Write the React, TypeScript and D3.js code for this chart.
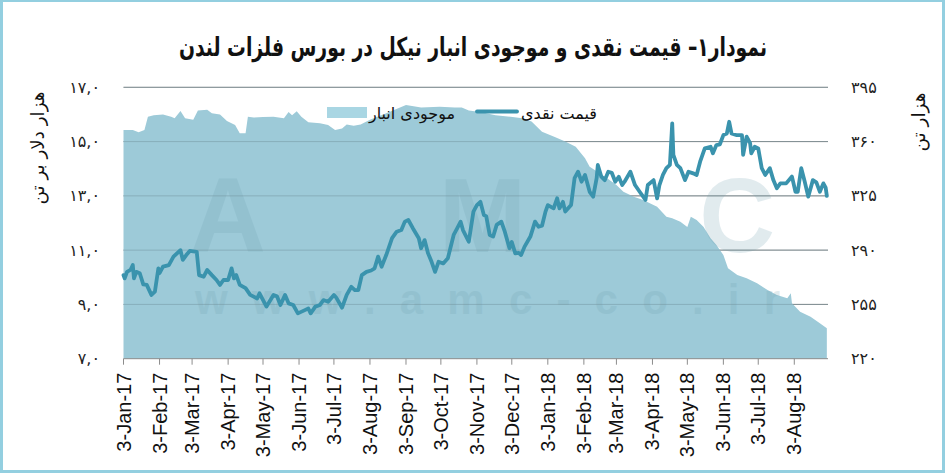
import React from "react";
import * as d3 from "d3";

// Days after 3-Jan-2017 for each reading
const inventoryDay = [0,8,13,18,21,26,34,41,44,49,53,60,64,72,76,83,89,96,100,105,107,112,120,129,138,142,145,149,153,159,169,176,182,188,192,198,204,212,225,243,256,272,285,291,297,307,320,333,343,351,360,371,380,389,397,401,407,416,424,430,439,447,459,467,472,479,485,488,493,499,505,510,516,520,528,536,545,554,562,571,574,575,582,591,599,605];
// LME nickel stocks (thousand tonnes)
const inventoryValue = [367.5,367.5,366,367.5,376,377,377.5,376,375,379.7,375,374,380,380.5,378.2,377.5,373.3,370.7,365.3,365.3,376,375.5,375.8,376,375,379,377,379.5,376,372.4,371.8,370.7,367.5,368.5,371,370.2,371,374,378,383.6,382,382.5,382,381.9,380,379,377,376,375,373,366.4,363,360,356.7,349.2,343.8,340.8,336.3,332,327.7,324.5,322.3,318,311.6,310.5,308.3,305,311.6,309.4,305,297.6,293.3,286.9,278.3,274,271.8,268.6,264.3,261.1,259,262.2,255.7,250.3,247.1,242.8,239.6];

const priceDay = [0,1,3,6,8,9,11,14,17,20,
24,27,30,31,34,39,43,49,51,54,
57,63,65,69,72,76,80,83,86,90,
93,95,97,100,105,109,115,117,123,129,
132,135,139,142,146,150,156,159,161,165,
169,172,176,181,183,188,192,196,199,202,
205,209,213,216,219,222,226,231,235,239,
242,245,249,254,256,259,262,265,268,271,
275,279,284,287,290,292,297,301,304,307,
310,312,315,318,321,325,328,332,334,337,
340,342,345,350,354,357,360,363,365,370,
373,375,378,380,385,388,391,394,397,401,
404,407,408,411,414,417,420,423,426,429,
431,436,440,444,449,451,456,459,461,464,
467,470,472,473,476,479,483,486,490,493,
496,500,505,507,510,513,516,519,521,523,
527,532,533,536,539,540,543,546,549,552,
556,559,562,565,570,575,578,580,583,586,
589,593,596,599,602,604,605];
// Cash price (thousand $ per tonne)
const priceValue = [10.08,9.96,10.2,10.27,10.45,9.96,10.2,10.15,9.74,9.72,
9.35,9.47,10.33,10.15,10.39,10.45,10.76,11.0,10.64,10.82,
10.97,10.94,10.08,10.02,10.27,10.08,9.9,9.72,9.9,9.9,
10.33,9.96,10.08,9.72,9.6,9.35,9.22,9.41,8.92,9.35,
9.3,8.98,9.35,9.04,8.98,8.67,8.79,8.85,8.67,8.92,
8.98,9.16,9.1,9.35,9.25,8.88,9.35,9.65,9.53,9.53,
10.08,10.2,10.25,10.33,10.76,10.39,10.82,11.44,11.68,11.74,
12.05,12.11,11.8,11.44,11.07,11.37,10.88,10.57,10.2,10.57,
10.51,10.7,11.56,11.8,12.05,11.74,11.31,12.42,12.66,12.78,
12.29,12.25,11.56,11.5,11.93,12.05,11.68,11.07,11.3,10.88,
10.9,10.82,11.13,11.5,12.05,11.86,11.9,12.42,12.66,12.54,
12.91,12.54,12.78,12.42,12.66,13.65,13.89,13.52,13.77,13.15,
12.97,13.65,14.14,13.71,13.58,13.89,13.85,13.52,13.7,13.4,
13.52,13.89,13.4,13.15,12.85,13.4,13.58,12.91,13.4,13.77,
14.02,14.14,15.67,14.51,14.14,14.02,13.58,13.89,13.83,13.77,
14.26,14.75,14.81,14.57,14.87,14.9,15.24,15.3,15.73,15.3,
15.24,15.24,14.51,15.18,14.94,14.57,14.81,14.75,14.02,13.77,
14.02,13.58,13.28,13.46,13.46,13.71,13.15,13.15,14.02,13.52,
12.97,13.58,13.5,13.15,13.46,13.3,13.0];

const xTickLabels = ["3-Jan-17","3-Feb-17","3-Mar-17","3-Apr-17","3-May-17","3-Jun-17","3-Jul-17","3-Aug-17","3-Sep-17","3-Oct-17","3-Nov-17","3-Dec-17","3-Jan-18","3-Feb-18","3-Mar-18","3-Apr-18","3-May-18","3-Jun-18","3-Jul-18","3-Aug-18"];
const leftTicks = [7, 9, 11, 13, 15, 17];
const leftTickLabels = ["۷,۰","۹,۰","۱۱,۰","۱۳,۰","۱۵,۰","۱۷,۰"];
const rightTicks = [220, 255, 290, 325, 360, 395];
const rightTickLabels = ["۲۲۰","۲۵۵","۲۹۰","۳۲۵","۳۶۰","۳۹۵"];

const title = "نمودار۱– قیمت نقدی و موجودی انبار نیکل در بورس فلزات لندن";
const leftAxisTitle = "هزار دلار بر تن";
const rightAxisTitle = "هزار تن";
const inventoryName = "موجودی انبار";
const priceName = "قیمت نقدی";

const W = 947, H = 474;
const plotL = 123.5, plotR = 828, plotT = 87.3, plotB = 358.7;
const startDate = new Date(2017, 0, 3);
const endDate = new Date(2018, 8, 1);

const AREA = "#9dcad8";
const LINE = "#3a93ad";
const ARABIC = "'DejaVu Sans', sans-serif";
const LATIN = "'Liberation Sans', Arial, sans-serif";

export default function App() {
  const x = d3.scaleTime().domain([startDate, endDate]).range([plotL, plotR]);
  const yL = d3.scaleLinear().domain([7, 17]).range([plotB, plotT]);
  const yR = d3.scaleLinear().domain([220, 395]).range([plotB, plotT]);
  const dayDate = (d: number) => d3.timeDay.offset(startDate, d);
  const parseTick = d3.timeParse("%d-%b-%y");

  const invData = inventoryDay.map((d, i) => ({ date: dayDate(d), v: inventoryValue[i] }));
  const priceData = priceDay.map((d, i) => ({ date: dayDate(d), v: priceValue[i] }));

  const area = d3.area<{ date: Date; v: number }>()
    .x(d => x(d.date)).y0(plotB).y1(d => yR(d.v));
  const line = d3.line<{ date: Date; v: number }>()
    .x(d => x(d.date)).y(d => yL(d.v));

  return (
    <svg width={W} height={H} style={{ position: "absolute", left: 0, top: 0, background: "#fff" }}>
      <rect x={1.5} y={0.5} width={942} height={471} fill="#fff" stroke="#93cfe0" strokeWidth={3} />
      <text x={473} y={56} textAnchor="middle" direction="rtl" fontFamily="'DejaVu Sans Condensed', 'DejaVu Sans', sans-serif"
        fontWeight="bold" fontSize={26} fill="#111" textLength={588} lengthAdjust="spacingAndGlyphs">{title}</text>

      {/* gridlines under */}
      {leftTicks.slice(1).map(t => (
        <line key={"g" + t} x1={plotL} x2={plotR} y1={yL(t)} y2={yL(t)} stroke="#8c8c8c" strokeWidth={1} />
      ))}
      <path d={area(invData) || ""} fill={AREA} />
      {/* watermark */}
      <g fontFamily={LATIN} fontWeight="bold" fill="#6e9fb0" opacity={0.2}>
        <text x={190} y={252} fontSize={105} textLength={585} lengthAdjust="spacing">AMC</text>
        <text x={195} y={314} fontSize={42} textLength={585} lengthAdjust="spacing">www.amc-co.ir</text>
      </g>
      {/* gridlines over area */}
      {leftTicks.slice(1).map(t => (
        <line key={"go" + t} x1={plotL} x2={plotR} y1={yL(t)} y2={yL(t)} stroke="#6f8f99" strokeWidth={1} opacity={0.45} />
      ))}
      <path d={line(priceData) || ""} fill="none" stroke={LINE} strokeWidth={3.8} strokeLinejoin="round" strokeLinecap="round" />

      {/* x axis */}
      <line x1={plotL} x2={plotR} y1={plotB} y2={plotB} stroke="#8c8c8c" strokeWidth={1} />
      {xTickLabels.map(lbl => {
        const tx = x(parseTick(lbl) as Date);
        return (
          <g key={lbl}>
            <line x1={tx} x2={tx} y1={plotB} y2={plotB + 6} stroke="#8c8c8c" strokeWidth={1} />
            <text transform={`translate(${tx},${plotB + 14}) rotate(-90)`} textAnchor="end" dominantBaseline="central"
              fontFamily={LATIN} fontSize={20} fill="#111">{lbl}</text>
          </g>
        );
      })}

      {/* left axis */}
      {leftTicks.map((t, i) => (
        <text key={"l" + t} x={100} y={yL(t)} dy="0.35em" textAnchor="end" fontFamily={ARABIC} fontSize={16} fill="#222">{leftTickLabels[i]}</text>
      ))}
      {rightTicks.map((t, i) => (
        <text key={"r" + t} x={851} y={yR(t)} dy="0.35em" textAnchor="start" fontFamily={ARABIC} fontSize={16} fill="#222">{rightTickLabels[i]}</text>
      ))}
      <text transform="translate(37,148) rotate(-90)" textAnchor="middle" dominantBaseline="central" fontFamily={ARABIC}
        fontSize={18} fill="#111" textLength={113} lengthAdjust="spacingAndGlyphs">{leftAxisTitle}</text>
      <text transform="translate(918,122) rotate(-90)" textAnchor="middle" dominantBaseline="central" fontFamily={ARABIC}
        fontSize={18} fill="#111" textLength={59} lengthAdjust="spacingAndGlyphs">{rightAxisTitle}</text>

      {/* legend */}
      <rect x={327} y={107} width={40} height={11} fill="#a9d6e3" />
      <text x={455} y={119} textAnchor="end" fontFamily={ARABIC} fontSize={16} fill="#111">{inventoryName}</text>
      <line x1={477} x2={517} y1={111.5} y2={111.5} stroke={LINE} strokeWidth={3.8} strokeLinecap="round" />
      <text x={597} y={119} textAnchor="end" fontFamily={ARABIC} fontSize={16} fill="#111">{priceName}</text>
    </svg>
  );
}
